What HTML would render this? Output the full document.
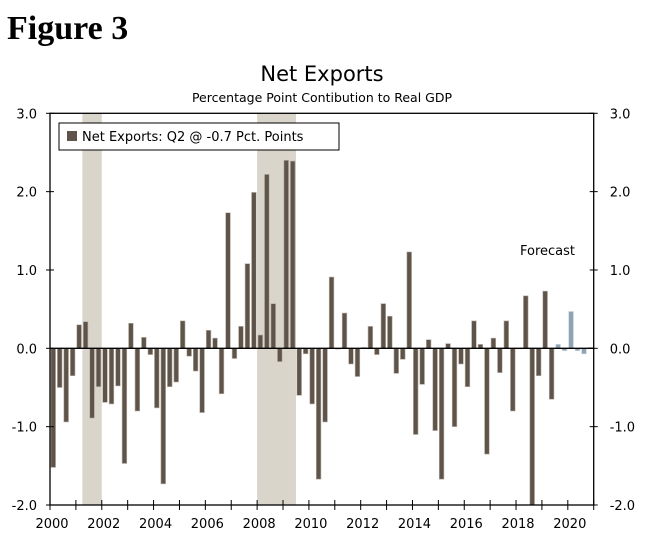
<!DOCTYPE html>
<html><head><meta charset="utf-8"><style>
body{margin:0;background:#fff;width:648px;height:540px;overflow:hidden}
svg text{font-family:"DejaVu Sans","Liberation Sans",sans-serif;fill:#000}
</style></head><body>
<svg id="chart" width="648" height="540" xmlns="http://www.w3.org/2000/svg">
<text x="7" y="39" style="font-family:'Liberation Serif',serif;font-weight:bold;font-size:34px">Figure 3</text>
<text x="322" y="81" text-anchor="middle" font-size="21">Net Exports</text>
<text x="322" y="102" text-anchor="middle" font-size="12.5">Percentage Point Contibution to Real GDP</text>
<g id="rec"></g><g id="bars"></g><g id="axes"></g>
<g>
<rect x="59" y="123" width="280" height="27" fill="#fff" stroke="#000" stroke-width="1"/>
<rect x="67" y="131" width="10" height="10" fill="#5f544a"/>
<text x="82" y="141" font-size="13">Net Exports: Q2 @ -0.7 Pct. Points</text>
</g>
<text x="520" y="255" font-size="13">Forecast</text>
</svg>
<script>
const values=[-1.52,-0.50,-0.94,-0.35,0.30,0.34,-0.89,-0.49,-0.69,-0.71,-0.48,-1.47,0.32,-0.80,0.14,-0.08,-0.76,-1.73,-0.49,-0.43,0.35,-0.10,-0.29,-0.82,0.23,0.13,-0.58,1.73,-0.13,0.28,1.08,1.99,0.17,2.22,0.57,-0.17,2.40,2.39,-0.60,-0.07,-0.71,-1.67,-0.94,0.91,-0.01,0.45,-0.20,-0.36,0.01,0.28,-0.08,0.57,0.41,-0.32,-0.14,1.23,-1.10,-0.46,0.11,-1.05,-1.67,0.06,-1.00,-0.20,-0.49,0.35,0.05,-1.35,0.13,-0.31,0.35,-0.80,0.00,0.67,-2.10,-0.35,0.73,-0.65];
const forecast=[0.05,-0.03,0.47,-0.03,-0.07,0.01];
const recessions=[[5,7],[32,37]];
const yTicks=[3,2,1,0,-1,-2];
const yTickLabels=["3.0","2.0","1.0","0.0","-1.0","-2.0"];
const xLabels=["2000","2002","2004","2006","2008","2010","2012","2014","2016","2018","2020"];
const startYear=2000;
const NS="http://www.w3.org/2000/svg";
const L=50,R=593.7,T=113.3,B=505,yMin=-2,yMax=3;
const nQ=values.length+forecast.length;
const qw=(R-L)/nQ;
const y=v=>B-(v-yMin)/(yMax-yMin)*(B-T);
const x=i=>L+i*qw;
function mk(tag,attrs,parent){const e=document.createElementNS(NS,tag);for(const k in attrs)e.setAttribute(k,attrs[k]);document.getElementById(parent).appendChild(e);return e;}
recessions.forEach(r=>{const e=mk('rect',{x:x(r[0]),y:T,width:(r[1]-r[0]+1)*qw,height:B-T,fill:'#d9d5ca'},'rec');

});
const all=values.map(v=>[v,false]).concat(forecast.map(v=>[v,true]));
all.forEach((d,i)=>{let v=Math.max(yMin,Math.min(yMax,d[0]));const y0=y(0),y1=y(v);
const e=mk('rect',{x:x(i)+0.9,y:Math.min(y0,y1),width:qw-1.8,height:Math.max(0.5,Math.abs(y1-y0)),fill:d[1]?'#8fa3b4':'#5f544a',stroke:d[1]?'#c9d3dc':'#b8b0a8','stroke-width':0.6},'bars');

});
mk('line',{x1:L,x2:R,y1:y(0),y2:y(0),stroke:'#000','stroke-width':1.3},'axes');
mk('rect',{x:L,y:T,width:R-L,height:B-T,fill:'none',stroke:'#000','stroke-width':1.3},'axes');
yTicks.forEach((t,i)=>{const yy=y(t);
mk('line',{x1:L-4,x2:L+4,y1:yy,y2:yy,stroke:'#000'},'axes');
mk('line',{x1:R-4,x2:R+4,y1:yy,y2:yy,stroke:'#000'},'axes');
const a=mk('text',{x:L-13,y:yy+5,'text-anchor':'end','font-size':13},'axes');a.textContent=yTickLabels[i];


const b=mk('text',{x:R+16,y:yy+5,'font-size':13},'axes');b.textContent=yTickLabels[i];

});
for(let yr=0;yr<=nQ/4;yr++){const xx=x(yr*4);mk('line',{x1:xx,x2:xx,y1:B-5,y2:B+5,stroke:'#000'},'axes');}
xLabels.forEach(lb=>{const q=(parseInt(lb)-startYear)*4;const t=mk('text',{x:x(q)+2,y:528,'text-anchor':'middle','font-size':13},'axes');t.textContent=lb;

});
</script>
</body></html>
